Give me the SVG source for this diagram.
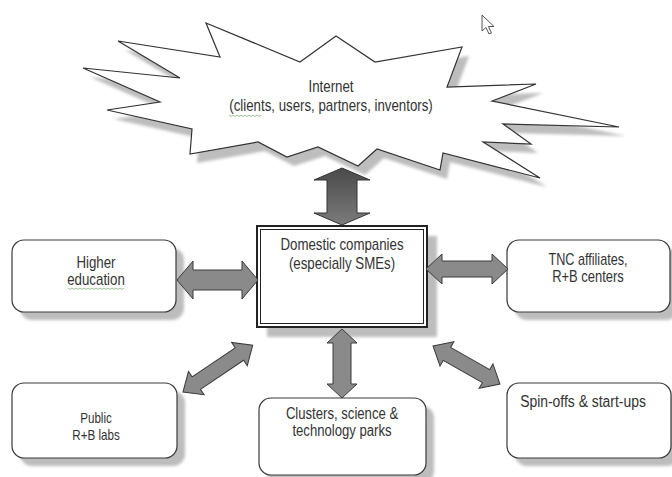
<svg xmlns="http://www.w3.org/2000/svg" width="672" height="477" viewBox="0 0 672 477">
<defs>
<filter id="blur" x="-10%" y="-10%" width="120%" height="120%"><feGaussianBlur stdDeviation="1.5"/></filter>
<linearGradient id="topGrad" x1="0" y1="0" x2="0" y2="1">
<stop offset="0" stop-color="#4a4a4a"/><stop offset="1" stop-color="#7c7c7c"/>
</linearGradient>
<style>
.box{fill:#fff;stroke:#3a3a3a;stroke-width:1.2}
.shadow{fill:#bdbdbd;filter:url(#blur)}
.arrow{fill:#8a8a8a;stroke:#3a3a3a;stroke-width:1}
.t{font-family:"Liberation Sans",Arial,sans-serif;font-size:16px;fill:#333;text-anchor:middle}
.ts{font-family:"Liberation Sans",Arial,sans-serif;font-size:14.5px;fill:#333;text-anchor:middle}
.sq{fill:none;stroke:#7fae76;stroke-width:0.8}
</style>
</defs>
<rect width="672" height="477" fill="#fff"/>

<g id="internet">
<polygon class="shadow" transform="translate(7,9)" points="206,23 300,62 336,36 375,62 462,47 447,87 536,84 492,101 619,127 503,124 531,144 483,142 540,178 443,153 440,170 377,149 358,166 318,147 287,157 258,142 190,154 192,129 107,110 160,102 83,68 180,78 118,41 220,57"/>
<polygon fill="#fff" stroke="#333" stroke-width="1.2" stroke-linejoin="miter" points="206,23 300,62 336,36 375,62 462,47 447,87 536,84 492,101 619,127 503,124 531,144 483,142 540,178 443,153 440,170 377,149 358,166 318,147 287,157 258,142 190,154 192,129 107,110 160,102 83,68 180,78 118,41 220,57"/>
<text class="t" transform="translate(331,92) scale(0.83,1)">Internet</text>
<text class="t" transform="translate(331,111) scale(0.83,1)">(clients, users, partners, inventors)</text>
<path class="sq" d="M229,115 l2,1.5 l2,-1.5 l2,1.5 l2,-1.5 l2,1.5 l2,-1.5 l2,1.5 l2,-1.5 l2,1.5 l2,-1.5 l2,1.5 l2,-1.5 l2,1.5 l2,-1.5 l2,1.5 l2,-1.5"/>
</g>

<g id="cursor">
<path d="M482,15 L482,31 L486,27.5 L489,34 L491.5,33 L488.5,26.5 L494,26.5 Z" fill="#fff" stroke="#555" stroke-width="1"/>
</g>

<g id="domestic">
<rect class="shadow" x="267" y="236" width="170" height="101"/>
<rect x="257" y="226" width="170" height="101" fill="#fff" stroke="#222" stroke-width="2"/>
<rect x="260.5" y="229.5" width="163" height="94" fill="none" stroke="#222" stroke-width="1"/>
<text class="t" transform="translate(342,250) scale(0.83,1)">Domestic companies</text>
<text class="t" transform="translate(342,269) scale(0.83,1)">(especially SMEs)</text>
</g>

<g id="higher">
<rect class="shadow" x="20" y="248" width="164" height="72" rx="12"/>
<rect class="box" x="12" y="240" width="164" height="72" rx="12"/>
<text class="t" transform="translate(96,268) scale(0.83,1)">Higher</text>
<text class="t" transform="translate(96,285) scale(0.83,1)">education</text>
<path class="sq" d="M68,288 l2,1.5 l2,-1.5 l2,1.5 l2,-1.5 l2,1.5 l2,-1.5 l2,1.5 l2,-1.5 l2,1.5 l2,-1.5 l2,1.5 l2,-1.5 l2,1.5 l2,-1.5 l2,1.5 l2,-1.5 l2,1.5 l2,-1.5 l2,1.5 l2,-1.5 l2,1.5 l2,-1.5 l2,1.5 l2,-1.5 l2,1.5 l2,-1.5 l2,1.5 l2,-1.5"/>
</g>

<g id="tnc">
<rect class="shadow" x="515" y="248" width="163" height="72" rx="12"/>
<rect class="box" x="507" y="240" width="163" height="72" rx="12"/>
<text class="t" transform="translate(588,265) scale(0.79,1)">TNC affiliates,</text>
<text class="t" transform="translate(588,282) scale(0.81,1)">R+B centers</text>
</g>

<g id="public">
<rect class="shadow" x="20" y="391" width="165" height="75" rx="12"/>
<rect class="box" x="12" y="383" width="165" height="75" rx="12"/>
<text class="ts" transform="translate(96,423) scale(0.8,1)">Public</text>
<text class="ts" transform="translate(96,440) scale(0.8,1)">R+B labs</text>
</g>

<g id="clusters">
<rect class="shadow" x="267" y="406" width="167" height="77" rx="12"/>
<rect class="box" x="259" y="398" width="167" height="77" rx="12"/>
<text class="t" transform="translate(342,419) scale(0.82,1)">Clusters, science &amp;</text>
<text class="t" transform="translate(342,436) scale(0.82,1)">technology parks</text>
</g>

<g id="spinoffs">
<rect class="shadow" x="515" y="391" width="164" height="75" rx="12"/>
<rect class="box" x="507" y="383" width="164" height="75" rx="12"/>
<text class="t" transform="translate(583,407) scale(0.87,1)">Spin-offs &amp; start-ups</text>
</g>

<g id="connectors">
<polygon fill="url(#topGrad)" stroke="#333" stroke-width="1" points="342,168 370,180 357,180 357,213 370,213 342,225 314,213 327,213 327,180 314,180"/>
<polygon class="arrow" transform="translate(177,280)" points="0,0 16,-19 16,-10 65,-10 65,-19 81,0 65,19 65,10 16,10 16,19"/>
<polygon class="arrow" transform="translate(426,269)" points="0,0 16,-15 16,-8 66,-8 66,-15 82,0 66,15 66,8 16,8 16,15"/>
<polygon class="arrow" transform="translate(342,329) rotate(90)" points="0,0 14,-15 14,-9 55,-9 55,-15 69,0 55,15 55,9 14,9 14,15"/>
<polygon class="arrow" transform="translate(183,392) rotate(-33.9)" points="0,0 16,-14 16,-7.5 68,-7.5 68,-14 84,0 68,14 68,7.5 16,7.5 16,14"/>
<polygon class="arrow" transform="translate(433,346) rotate(29.6)" points="0,0 16,-14 16,-7.5 61,-7.5 61,-14 77,0 61,14 61,7.5 16,7.5 16,14"/>
</g>
</svg>
